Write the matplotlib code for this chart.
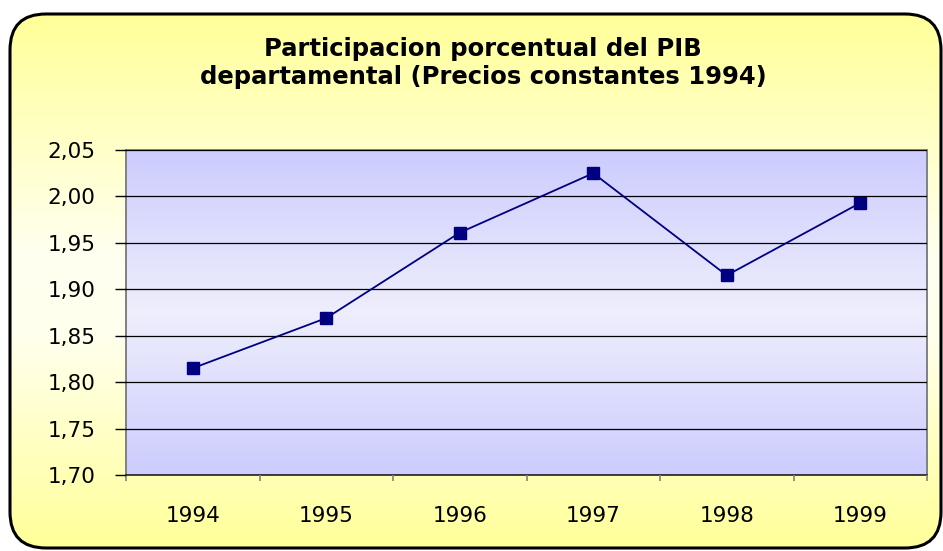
import numpy as np
import matplotlib
matplotlib.use("Agg")
from matplotlib import pyplot as plt
from matplotlib.colors import LinearSegmentedColormap
from matplotlib.patches import FancyBboxPatch

plt.rcParams['font.family'] = ['DejaVu Sans']

# Data
years = ['1994', '1995', '1996', '1997', '1998', '1999']
share = [1.815, 1.869, 1.961, 2.025, 1.915, 1.993]
yticks = [1.70, 1.75, 1.80, 1.85, 1.90, 1.95, 2.00, 2.05]
ytick_labels = ['1,70', '1,75', '1,80', '1,85', '1,90', '1,95', '2,00', '2,05']
title = 'Participacion porcentual del PIB\ndepartamental (Precios constantes 1994)'

W, H = 943, 551
fig = plt.figure(figsize=(W / 100, H / 100), dpi=100)

# Background: rounded yellow box with vertical gradient
bg = fig.add_axes([0, 0, 1, 1])
bg.set_xlim(0, W)
bg.set_ylim(H, 0)
bg.axis('off')
x0, y0, x1, y1 = 10, 14, 941, 548
box = FancyBboxPatch((x0, y0), x1 - x0, y1 - y0,
                     boxstyle="round,pad=0,rounding_size=36",
                     facecolor='none', edgecolor='black', linewidth=2.2, zorder=3)
bg.add_patch(box)
ycmap = LinearSegmentedColormap.from_list(
    'yel', [(0, '#FFFF99'), (0.45, '#FFFFF0'), (0.6, '#FFFFEE'), (1, '#FFFF99')])
grad = np.linspace(0, 1, 256).reshape(-1, 1)
im = bg.imshow(grad, cmap=ycmap, aspect='auto', extent=[x0, x1, y1, y0], zorder=1)
im.set_clip_path(box)

fig.text(483 / W, 1 - 63 / H, title, ha='center', va='center',
         fontsize=17.5, fontweight='bold', linespacing=1.2)

# Plot area
ax = fig.add_axes([126 / W, 1 - 475 / H, (927 - 126) / W, (475 - 150) / H])
ax.set_facecolor('none')
pcmap = LinearSegmentedColormap.from_list(
    'blu', [(0, '#CCCCFF'), (0.5, '#EEEEFC'), (1, '#CCCCFF')])
ax.imshow(grad, cmap=pcmap, aspect='auto', extent=[-0.5, 5.5, 1.70, 2.05], zorder=0)

xpos = np.arange(len(years))
ax.plot(xpos, share, color='#000080', linewidth=1.3, marker='s',
        markersize=8.5, markerfacecolor='#000080', markeredgecolor='#000080', zorder=3)

ax.set_xlim(-0.5, 5.5)
ax.set_ylim(1.70, 2.05)
ax.set_yticks(yticks)
ax.set_yticklabels(ytick_labels, fontsize=15.5)
ax.yaxis.grid(True, color='black', linewidth=0.9)
ax.set_axisbelow(False)
for gl in ax.get_ygridlines():
    gl.set_zorder(1)
ax.tick_params(axis='y', direction='out', length=8, width=1, color='black', pad=14)

ax.set_xticks(np.arange(-0.5, 6, 1))
ax.set_xticklabels([])
ax.set_xticks(xpos, minor=True)
ax.set_xticklabels(years, minor=True, fontsize=15.5)
ax.tick_params(axis='x', which='major', direction='out', length=4.5, width=1.2, color='#808080')
ax.tick_params(axis='x', which='minor', length=0, pad=22)

for s in ['top', 'right', 'left']:
    ax.spines[s].set_color('#808080')
    ax.spines[s].set_linewidth(1.4)
ax.spines['bottom'].set_color('#404040')
ax.spines['bottom'].set_linewidth(1.4)

fig.savefig('out.png', dpi=100)
